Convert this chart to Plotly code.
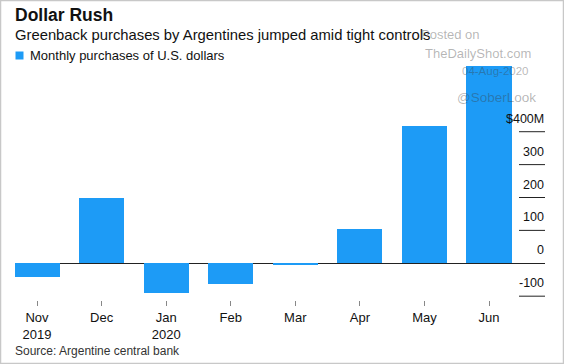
import plotly.graph_objects as go

# ---- data ----
months = ["Nov<br>2019", "Dec", "Jan<br>2020", "Feb", "Mar", "Apr", "May", "Jun"]
purchases = [-41, 200, -91, -64, -6, 104, 417, 600]   # US$ millions
ytick_vals = [400, 300, 200, 100, 0, -100]
ytick_text = ["$400M", "300", "200", "100", "0", "-100"]

W, H = 564, 364
ML, MR, MT, MB = 15, 19, 60, 64
PW, PH = W - ML - MR, H - MT - MB

def px(x):  # pixel -> paper x
    return (x - ML) / PW

def py(y):  # pixel -> paper y
    return (H - MB - y) / PH

FONT = "Liberation Sans, Arial, sans-serif"
BLUE = "#1d9bf6"

fig = go.Figure()
fig.add_trace(go.Bar(x=months, y=purchases, marker_color=BLUE, marker_line_width=0,
                     width=0.7, name="Monthly purchases of U.S. dollars", showlegend=False,
                     hoverinfo="skip"))

ann = []
shapes = []
# titles
ann.append(dict(text="<b>Dollar Rush</b>", x=px(13), y=py(15), xref="paper", yref="paper",
                xanchor="left", yanchor="middle", showarrow=False,
                font=dict(size=17.5, color="#111", family=FONT)))
ann.append(dict(text="Greenback purchases by Argentines jumped amid tight controls",
                x=px(13), y=py(35), xref="paper", yref="paper",
                xanchor="left", yanchor="middle", showarrow=False,
                font=dict(size=14.8, color="#111", family=FONT)))
# legend
shapes.append(dict(type="rect", xref="paper", yref="paper", x0=px(15.5), x1=px(23.5),
                   y0=py(51.5), y1=py(59.5), fillcolor=BLUE, line_width=0))
ann.append(dict(text="Monthly purchases of U.S. dollars", x=px(28), y=py(55.5),
                xref="paper", yref="paper", xanchor="left", yanchor="middle", showarrow=False,
                font=dict(size=13, color="#111", family=FONT)))
# source
ann.append(dict(text="Source: Argentine central bank", x=px(13), y=py(351),
                xref="paper", yref="paper", xanchor="left", yanchor="middle", showarrow=False,
                font=dict(size=12, color="#333", family=FONT)))
# y axis labels and short rules
for v, t in zip(ytick_vals, ytick_text):
    ann.append(dict(text=t, x=px(546), y=v, xref="paper", yref="y", xanchor="right",
                    yanchor="middle", yshift=13, showarrow=False,
                    font=dict(size=12.5, color="#111", family=FONT)))
    if v != 0:
        shapes.append(dict(type="line", xref="paper", yref="y", x0=px(519), x1=1.0,
                           y0=v, y1=v, line=dict(color="#222", width=1)))
# watermark
wm = "rgba(60,60,60,0.38)"
ann.append(dict(text="Posted on", x=px(482), y=py(35), xref="paper", yref="paper",
                xanchor="right", yanchor="middle", showarrow=False,
                font=dict(size=13, color=wm, family=FONT)))
ann.append(dict(text="TheDailyShot.com", x=px(478), y=py(53), xref="paper", yref="paper",
                xanchor="center", yanchor="middle", showarrow=False,
                font=dict(size=13, color=wm, family=FONT)))
ann.append(dict(text="04-Aug-2020", x=px(531), y=py(71), xref="paper", yref="paper",
                xanchor="right", yanchor="middle", showarrow=False,
                font=dict(size=11.5, color=wm, family=FONT)))
ann.append(dict(text="@SoberLook", x=px(496.5), y=py(97), xref="paper", yref="paper",
                xanchor="center", yanchor="middle", showarrow=False,
                font=dict(size=13.5, color=wm, family=FONT)))
# border
shapes.append(dict(type="rect", xref="paper", yref="paper", x0=px(0.5), x1=px(W - 0.5),
                   y0=py(0.5), y1=py(H - 0.5), line=dict(color="#c8c8c8", width=1.5),
                   fillcolor="rgba(0,0,0,0)", layer="above"))

fig.update_layout(
    width=W, height=H, margin=dict(l=ML, r=MR, t=MT, b=MB, autoexpand=False),
    paper_bgcolor="white", plot_bgcolor="white", showlegend=False,
    annotations=ann, shapes=shapes, bargap=0, hovermode=False,
    font=dict(family=FONT, color="#111", size=13),
)
fig.update_xaxes(type="category", range=[-0.341, 7.867], showgrid=False, showline=False,
                 ticks="outside", ticklen=5, tickcolor="#888", tickwidth=1, fixedrange=True,
                 tickfont=dict(size=13, color="#111", family=FONT))
fig.update_yaxes(range=[-111.6, 618], showgrid=False, showticklabels=False, fixedrange=True,
                 zeroline=True, zerolinecolor="#222", zerolinewidth=1, showline=False)

fig.write_html("out.html", config={"displayModeBar": False},
               post_script="document.body.style.margin='0';document.body.style.overflow='hidden';")
